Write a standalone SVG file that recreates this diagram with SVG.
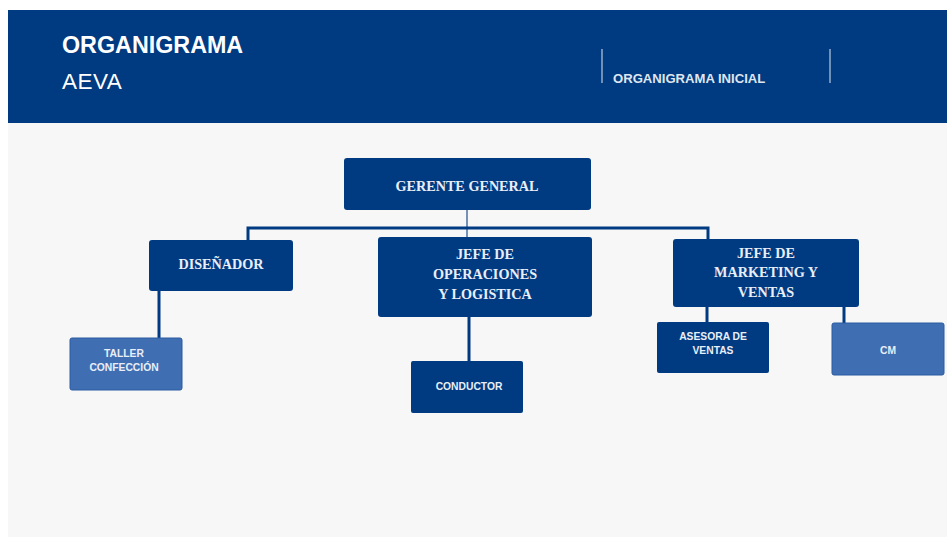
<svg xmlns="http://www.w3.org/2000/svg" width="947" height="537" viewBox="0 0 947 537">
<style>
.dark{fill:#003b82}
.light{fill:#3f6eb3;stroke:#2b5a9f;stroke-width:1}
.serif{font-family:"Liberation Serif","Times New Roman",serif;font-weight:bold;font-size:14.2px;fill:#e9eef7;text-anchor:middle}
.sans{font-family:"Liberation Sans",Arial,sans-serif;font-weight:bold;font-size:10.3px;fill:#e9eef7;text-anchor:middle}
.conn{fill:none;stroke:#003b82;stroke-width:3}
.thin{fill:none;stroke:#4a6f9e;stroke-width:1.5}
</style>
<rect x="0" y="0" width="947" height="537" fill="#ffffff"/>
<rect x="8" y="123" width="939" height="414" fill="#f7f7f8"/>
<g id="header">
<rect x="8" y="10" width="939" height="113" fill="#003a80"/>
<text x="62" y="53" font-family="Liberation Sans, Arial, sans-serif" font-weight="bold" font-size="23.3" fill="#ffffff">ORGANIGRAMA</text>
<text x="62" y="89" font-family="Liberation Sans, Arial, sans-serif" font-size="22.5" fill="#ffffff" letter-spacing="0.5">AEVA</text>
<line x1="602" y1="49" x2="602" y2="83" stroke="#dfe6f0" stroke-width="1"/>
<line x1="830" y1="49" x2="830" y2="83" stroke="#dfe6f0" stroke-width="1"/>
<text x="613" y="83" font-family="Liberation Sans, Arial, sans-serif" font-weight="bold" font-size="13.1" fill="#dfe6f0">ORGANIGRAMA INICIAL</text>
</g>
<g id="connectors">
<line class="thin" x1="467" y1="210" x2="467" y2="237"/>
<polyline class="conn" points="248,240 248,228 708,228 708,239"/>
<line class="conn" x1="159" y1="291" x2="159" y2="338"/>
<line class="conn" x1="469" y1="317" x2="469" y2="361"/>
<line class="conn" x1="707" y1="307" x2="707" y2="322"/>
<line class="conn" x1="844" y1="307" x2="844" y2="323"/>
</g>
<g id="gerente">
<rect class="dark" x="344" y="158" width="247" height="52" rx="3"/>
<text class="serif" x="467" y="191">GERENTE GENERAL</text>
</g>
<g id="disenador">
<rect class="dark" x="149" y="240" width="144" height="51" rx="3"/>
<text class="serif" x="221" y="269">DISEÑADOR</text>
</g>
<g id="jefe-operaciones">
<rect class="dark" x="378" y="237" width="214" height="80" rx="3"/>
<text class="serif" x="485" y="259">JEFE DE</text>
<text class="serif" x="485" y="279">OPERACIONES</text>
<text class="serif" x="485" y="299">Y LOGISTICA</text>
</g>
<g id="jefe-marketing">
<rect class="dark" x="673" y="239" width="186" height="68" rx="3"/>
<text class="serif" x="766" y="258">JEFE DE</text>
<text class="serif" x="766" y="277">MARKETING Y</text>
<text class="serif" x="766" y="297">VENTAS</text>
</g>
<g id="taller">
<rect class="light" x="70" y="338" width="112" height="52" rx="2"/>
<text class="sans" x="124" y="357">TALLER</text>
<text class="sans" x="124" y="371">CONFECCIÓN</text>
</g>
<g id="conductor">
<rect class="dark" x="411" y="361" width="112" height="52" rx="2"/>
<text class="sans" x="469" y="390">CONDUCTOR</text>
</g>
<g id="asesora">
<rect class="dark" x="657" y="322" width="112" height="51" rx="2"/>
<text class="sans" x="713" y="340">ASESORA DE</text>
<text class="sans" x="713" y="354">VENTAS</text>
</g>
<g id="cm">
<rect class="light" x="832" y="323" width="112" height="52" rx="2"/>
<text class="sans" x="888" y="354">CM</text>
</g>
</svg>
